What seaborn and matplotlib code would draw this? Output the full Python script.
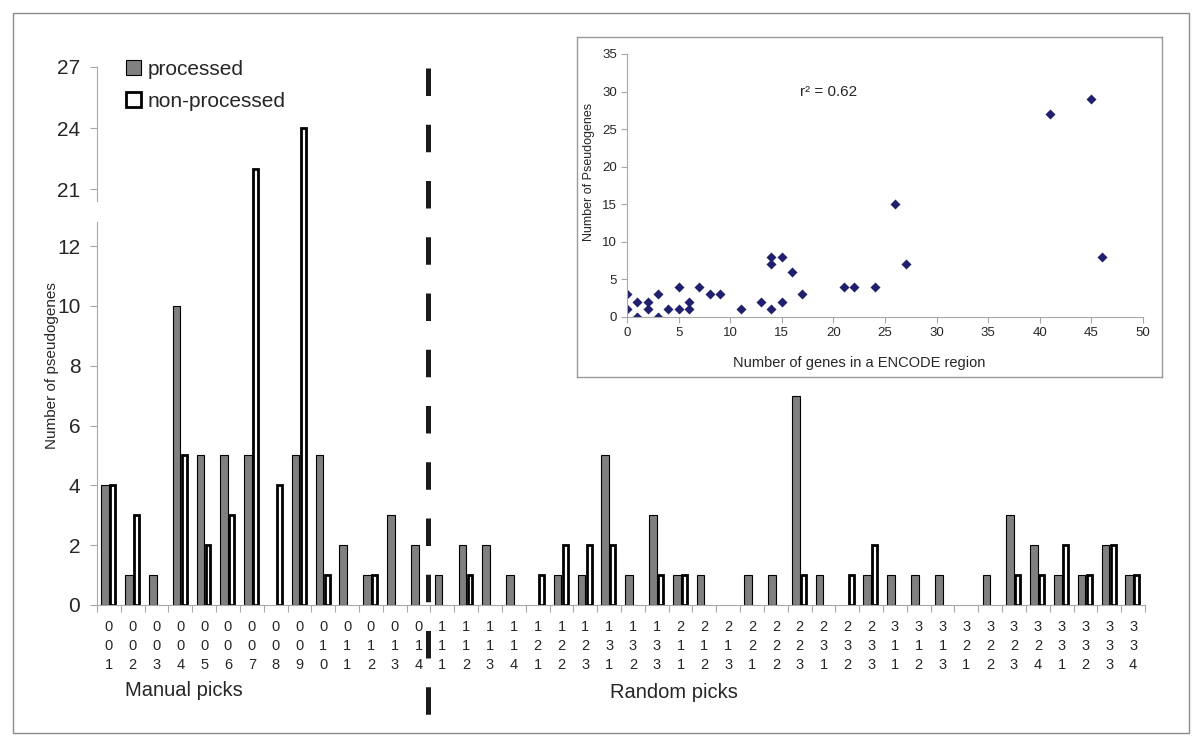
import matplotlib.pyplot as plt
from matplotlib.patches import Patch, Rectangle
from matplotlib.lines import Line2D
from matplotlib.transforms import blended_transform_factory
import pandas as pd
import seaborn as sns

# ENCODE regions (manual picks ENm001-014, random picks ENr111-334)
regions = [
    "001", "002", "003", "004", "005", "006", "007", "008", "009", "010",
    "011", "012", "013", "014",
    "111", "112", "113", "114", "121", "122", "123", "131", "132", "133",
    "211", "212", "213", "221", "222", "223", "231", "232", "233",
    "311", "312", "313", "321", "322", "323", "324", "331", "332", "333", "334",
]
processed = [
    4, 1, 1, 10, 5, 5, 5, 0, 5, 5, 2, 1, 3, 2,
    1, 2, 2, 1, 0, 1, 1, 5, 1, 3,
    1, 1, 0, 1, 1, 7, 1, 0, 1,
    1, 1, 1, 0, 1, 3, 2, 1, 1, 2, 1,
]
non_processed = [
    4, 3, 0, 5, 2, 3, 22, 4, 24, 1, 0, 1, 0, 0,
    0, 1, 0, 0, 1, 2, 2, 2, 0, 1,
    1, 0, 0, 0, 0, 1, 0, 1, 2,
    0, 0, 0, 0, 0, 1, 1, 2, 1, 2, 1,
]
series = ["processed", "non-processed"]

# inset: genes vs pseudogenes per region
genes_in_region = [0, 0, 1, 1, 2, 2, 3, 3, 4, 5, 5, 6, 6, 7, 8, 9, 11, 13,
                   14, 14, 14, 15, 15, 16, 17, 21, 22, 24, 26, 27, 41, 45, 46]
pseudogenes_in_region = [3, 1, 2, 0, 2, 1, 3, 0, 1, 4, 1, 2, 1, 4, 3, 3, 1, 2,
                         8, 7, 1, 8, 2, 6, 3, 4, 4, 4, 15, 7, 27, 29, 8]

sns.set_style("white")
plt.rcParams["font.family"] = ["Liberation Sans", "DejaVu Sans"]

W, H = 1200, 743
axis_grey = "#a8a8a8"
n = len(regions)

df = pd.DataFrame({
    "region": regions * 2,
    "count": processed + non_processed,
    "type": [series[0]] * n + [series[1]] * n,
})

fig = plt.figure(figsize=(12, 7.43), dpi=100)

# outer frame
fig.patches.append(Rectangle((13 / W, 1 - 733 / H), 1176 / W, 720 / H,
                             transform=fig.transFigure, fill=False,
                             edgecolor="#8c8c8c", linewidth=1))

ax_bot = fig.add_axes([97 / W, 1 - 605 / H, 1048 / W, 393 / H])
ax_top = fig.add_axes([97 / W, 1 - 212 / H, 1048 / W, 145 / H])

thick = 2.0
for ax in (ax_bot, ax_top):
    sns.barplot(data=df, x="region", y="count", hue="type", order=regions,
                hue_order=series, palette={"processed": "#808080",
                                           "non-processed": "white"},
                width=0.64, saturation=1, edgecolor="black", legend=False,
                ax=ax)
    shrink = thick / 72 * 100 / (1048 / n)
    for cont, lw in zip(ax.containers, (0.8, thick)):
        for p in cont:
            p.set_linewidth(lw)
            if p.get_height() == 0:
                p.set_visible(False)
            elif lw == thick:
                p.set_x(p.get_x() + shrink / 2)
                p.set_width(p.get_width() - shrink)
    ax.set_xlim(-0.5, n - 0.5)
    ax.set_xlabel("")
    ax.set_ylabel("")
    for s in ("top", "right"):
        ax.spines[s].set_visible(False)
    ax.spines["left"].set_color(axis_grey)
    ax.tick_params(axis="y", direction="out", length=5, width=0.8,
                   color=axis_grey, labelsize=15, pad=7, left=True)

ax_bot.set_ylim(0, 13.14)
ax_bot.set_yticks(range(0, 13, 2))
ax_bot.spines["left"].set_bounds(0, 12.8)
ax_bot.spines["bottom"].set_color(axis_grey)
ax_bot.set_xticks(range(n))
ax_bot.set_xticklabels(["\n".join(r) for r in regions], fontsize=10.5,
                       linespacing=1.42)
ax_bot.set_xticks([i - 0.5 for i in range(n + 1)], minor=True)
ax_bot.tick_params(axis="x", which="major", length=0, pad=11)
ax_bot.tick_params(axis="x", which="minor", direction="out", length=5,
                   width=0.8, color=axis_grey, bottom=True)

ax_top.set_ylim(19.87, 27)
ax_top.set_yticks([21, 24, 27])
ax_top.spines["left"].set_bounds(20.4, 27)
ax_top.spines["bottom"].set_visible(False)
ax_top.tick_params(axis="x", which="both", bottom=False, labelbottom=False)
ax_top.patch.set_alpha(0)

# dashed divider between manual and random picks
trans = blended_transform_factory(ax_bot.transData, fig.transFigure)
divider = Line2D([13.4, 13.4], [1 - 68 / H, 1 - 717 / H], transform=trans,
                 color="#1a1a1a", linewidth=3.6, linestyle=(0, (5.5, 5.75)),
                 solid_capstyle="butt", dash_capstyle="butt", clip_on=False)
fig.add_artist(divider)

fig.text(52 / W, 1 - 366 / H, "Number of pseudogenes", rotation=90,
         ha="center", va="center", fontsize=11)
fig.text(125 / W, 1 - 691 / H, "Manual picks", ha="left", va="center",
         fontsize=14.5)
fig.text(610 / W, 1 - 693 / H, "Random picks", ha="left", va="center",
         fontsize=14.5)

handles = [Patch(facecolor="#808080", edgecolor="black", linewidth=0.8),
           Patch(facecolor="white", edgecolor="black", linewidth=thick)]
fig.legend(handles, series, loc="upper left",
           bbox_to_anchor=(126 / W, 1 - 60 / H), frameon=False, fontsize=15,
           handlelength=0.7, handleheight=0.7, handletextpad=0.35,
           labelspacing=0.62, borderaxespad=0, borderpad=0)

# inset scatter
box = fig.add_axes([577 / W, 1 - 377 / H, 585 / W, 340 / H])
box.set_xticks([])
box.set_yticks([])
for s in box.spines.values():
    s.set_color("#9a9a9a")
    s.set_linewidth(1)

ins = fig.add_axes([627 / W, 1 - 317 / H, 516 / W, 263 / H])
sns.scatterplot(x=genes_in_region, y=pseudogenes_in_region, marker="D",
                color="#20206e", s=26, linewidth=0, ax=ins)
ins.set_xlim(0, 50)
ins.set_ylim(0, 35)
ins.set_xticks(range(0, 51, 5))
ins.set_yticks(range(0, 36, 5))
ins.patch.set_alpha(0)
for s in ("top", "right"):
    ins.spines[s].set_visible(False)
for s in ("left", "bottom"):
    ins.spines[s].set_color(axis_grey)
    ins.spines[s].set_linewidth(0.8)
ins.tick_params(direction="out", length=4, width=0.8, color=axis_grey,
                labelsize=9.5, left=True, bottom=True, pad=3)
ins.set_xlabel("Number of genes in a ENCODE region", fontsize=10.5)
ins.xaxis.set_label_coords(0.45, -0.148)
ins.set_ylabel("Number of Pseudogenes", fontsize=9)
ins.yaxis.set_label_coords(-0.062, 0.551)
ins.text(16.8, 30, "r² = 0.62", fontsize=11, va="center")

fig.savefig("out.png", dpi=100)
